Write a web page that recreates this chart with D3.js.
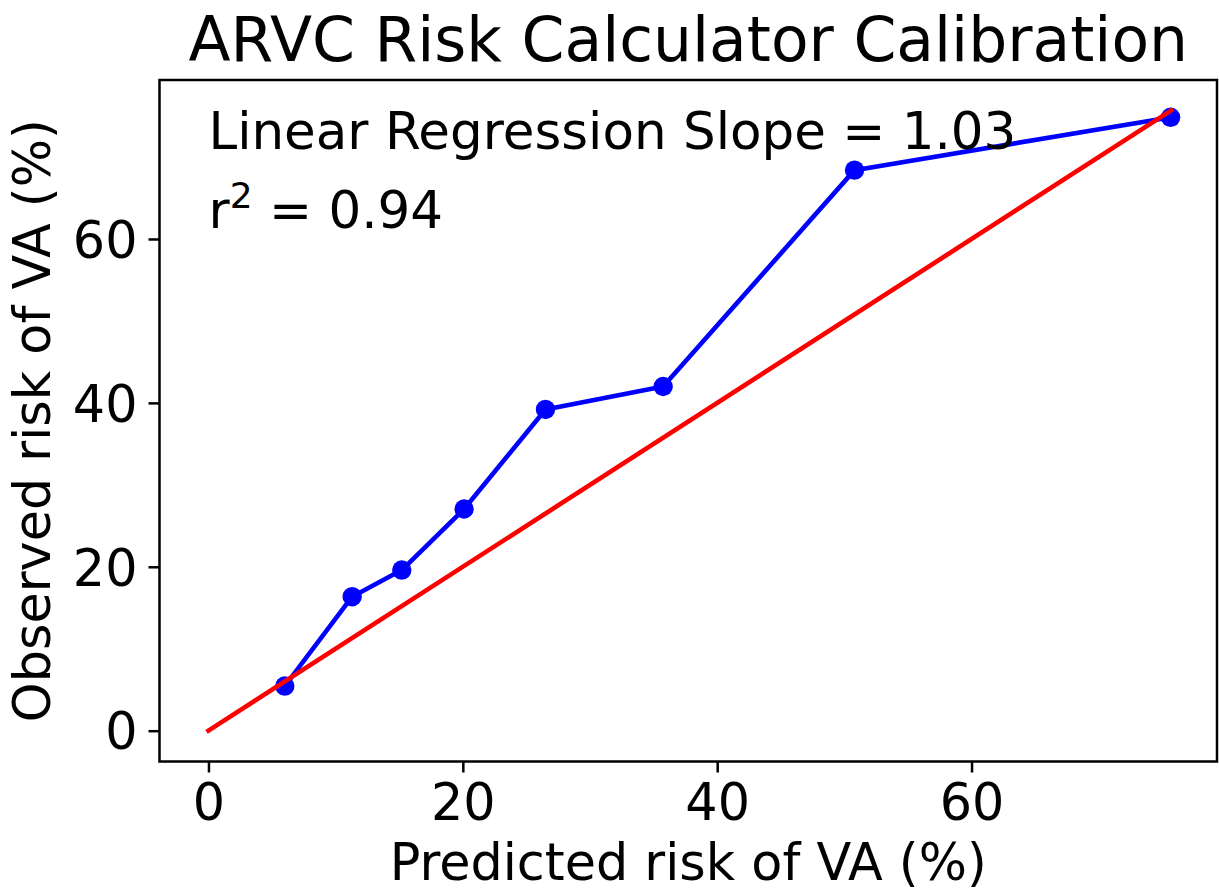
<!DOCTYPE html>
<html>
<head>
<meta charset="utf-8">
<script src="https://cdn.jsdelivr.net/npm/d3@7"></script>
<style>
  body { margin: 0; background: #fff; }
  svg text { font-family: "DejaVu Sans", sans-serif; fill: #000; }
</style>
</head>
<body>
<div id="chart"></div>
<script>
// Data
const predicted = [6.0, 11.3, 15.2, 20.1, 26.5, 35.75, 50.8, 75.65];
const observed = [5.45, 16.35, 19.6, 27.05, 39.2, 42.0, 68.4, 74.85];
const identityLine = [0, 75.7];
const xTicks = [0, 20, 40, 60];
const yTicks = [0, 20, 40, 60];

const width = 1219;
const height = 894;
// plot frame (pixels)
const plot = { left: 159.5, right: 1217, top: 80, bottom: 761.5 };

const svg = d3.select("#chart")
  .append("svg")
  .attr("width", width)
  .attr("height", height);

svg.append("rect").attr("width", width).attr("height", height).attr("fill", "#fff");

// Scales
const x = d3.scaleLinear()
  .domain([-3.85, 79.3])
  .range([plot.left, plot.right]);

const y = d3.scaleLinear()
  .domain([-3.76, 79.4])
  .range([plot.bottom, plot.top]);

// x axis
svg.append("g")
  .attr("transform", `translate(0,${plot.bottom})`)
  .call(d3.axisBottom(x).tickValues(xTicks).tickSize(11).tickPadding(11))
  .call((g) => g.select(".domain").remove())
  .call((g) => g.selectAll(".tick line").attr("stroke", "#000").attr("stroke-width", 2.5))
  .call((g) => g.selectAll(".tick text")
                .attr("font-size", "50.8px")
                .attr("font-family", "DejaVu Sans"));

// y axis
svg.append("g")
  .attr("transform", `translate(${plot.left},0)`)
  .call(d3.axisLeft(y).tickValues(yTicks).tickSize(11).tickPadding(11))
  .call((g) => g.select(".domain").remove())
  .call((g) => g.selectAll(".tick line").attr("stroke", "#000").attr("stroke-width", 2.5))
  .call((g) => g.selectAll(".tick text")
                .attr("dy", "0.36em")
                .attr("font-size", "50.8px")
                .attr("font-family", "DejaVu Sans"));

// Observed vs predicted
const line = d3.line()
  .x((d) => x(d[0]))
  .y((d) => y(d[1]));

const points = predicted.map((p, i) => [p, observed[i]]);

svg.append("path")
  .datum(points)
  .attr("d", line)
  .attr("fill", "none")
  .attr("stroke", "#0000ff")
  .attr("stroke-width", 4.6)
  .attr("stroke-linejoin", "round")
  .attr("stroke-linecap", "square");

svg.selectAll(".dot")
  .data(points)
  .enter()
  .append("circle")
    .attr("class", "dot")
    .attr("cx", (d) => x(d[0]))
    .attr("cy", (d) => y(d[1]))
    .attr("r", 9.7)
    .attr("fill", "#0000ff");

// Perfect calibration line
svg.append("path")
  .datum(identityLine.map((v) => [v, v]))
  .attr("d", line)
  .attr("fill", "none")
  .attr("stroke", "#ff0000")
  .attr("stroke-width", 4.6)
  .attr("stroke-linecap", "square");

// Frame
svg.append("rect")
  .attr("x", plot.left)
  .attr("y", plot.top)
  .attr("width", plot.right - plot.left)
  .attr("height", plot.bottom - plot.top)
  .attr("fill", "none")
  .attr("stroke", "#000")
  .attr("stroke-width", 2.5);

// Annotations
svg.append("text")
  .attr("x", x(0))
  .attr("y", 149)
  .attr("font-size", "51.5px")
  .text("Linear Regression Slope = 1.03");

const r2 = svg.append("text")
  .attr("x", x(0))
  .attr("y", 228)
  .attr("font-size", "51.5px");
r2.append("tspan").text("r");
r2.append("tspan").attr("font-size", "36px").attr("dy", "-20").text("2");
r2.append("tspan").attr("dy", "20").text(" = 0.94");

// Title and axis labels
svg.append("text")
  .attr("x", (plot.left + plot.right) / 2)
  .attr("y", 61)
  .attr("text-anchor", "middle")
  .attr("font-size", "61.5px")
  .text("ARVC Risk Calculator Calibration");

svg.append("text")
  .attr("x", (plot.left + plot.right) / 2)
  .attr("y", 880)
  .attr("text-anchor", "middle")
  .attr("font-size", "50.8px")
  .text("Predicted risk of VA (%)");

svg.append("text")
  .attr("transform", `translate(50,${(plot.top + plot.bottom) / 2}) rotate(-90)`)
  .attr("text-anchor", "middle")
  .attr("font-size", "50.8px")
  .text("Observed risk of VA (%)");
</script>
</body>
</html>
